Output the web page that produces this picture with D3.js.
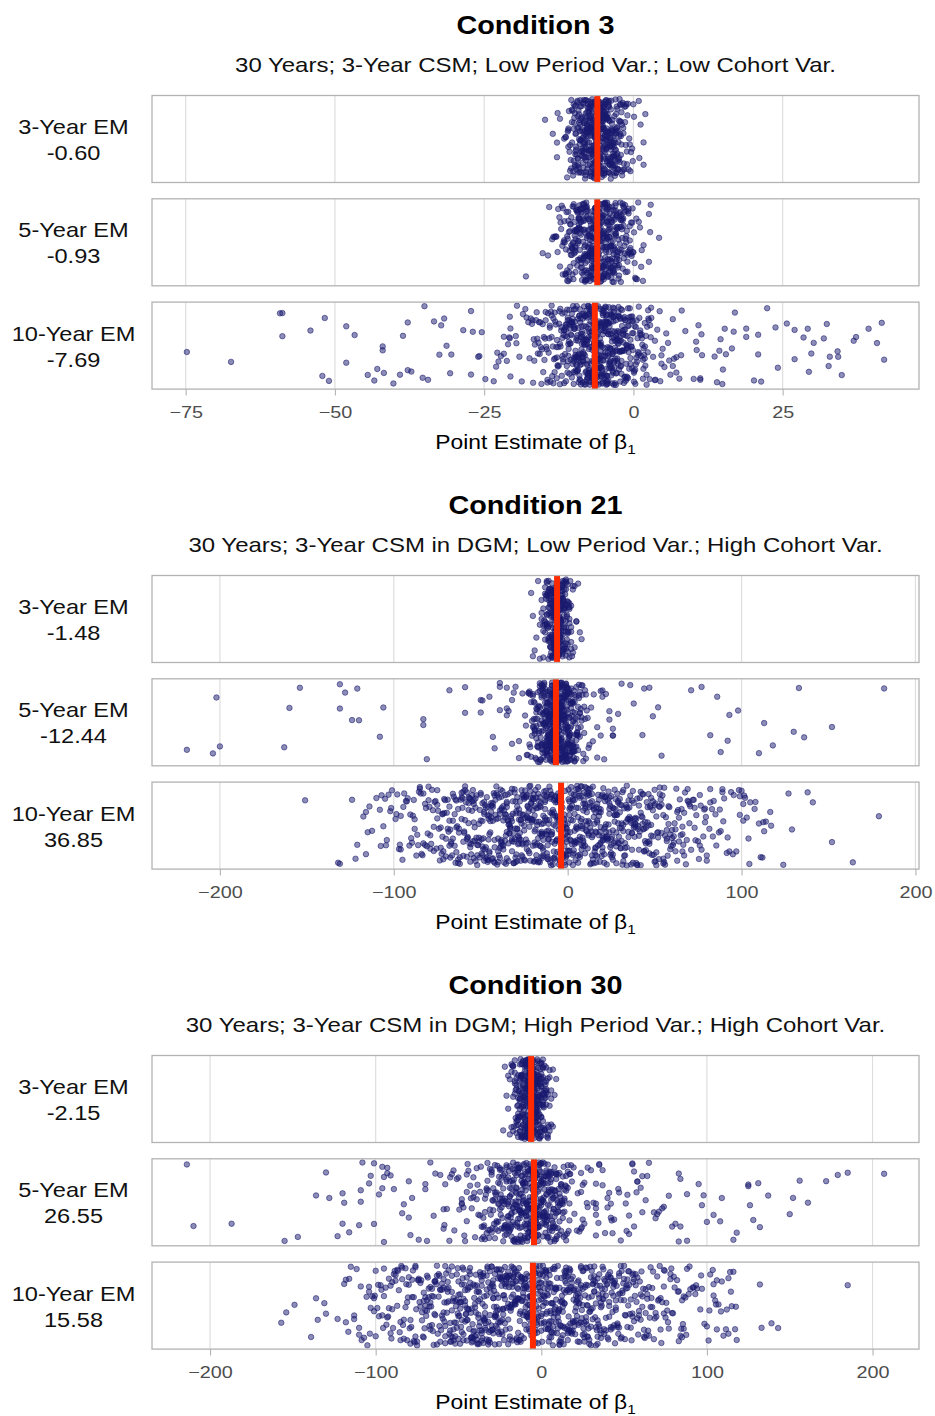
<!DOCTYPE html>
<html>
<head>
<meta charset="utf-8">
<script src="https://cdn.jsdelivr.net/npm/d3@7"></script>
<style>
  body { margin: 0; background: #fff; }
  svg { display: block; font-family: "Liberation Sans", Arial, Helvetica, sans-serif; }
</style>
</head>
<body>
<svg id="chart" width="935" height="1416"></svg>
<script>
// ---- text ----
const conditionTitles = ["Condition 3", "Condition 21", "Condition 30"];
const conditionSubtitles = [
  "30 Years; 3-Year CSM; Low Period Var.; Low Cohort Var.",
  "30 Years; 3-Year CSM in DGM; Low Period Var.; High Cohort Var.",
  "30 Years; 3-Year CSM in DGM; High Period Var.; High Cohort Var."
];
const emLabels = ["3-Year EM", "5-Year EM", "10-Year EM"];
const axisTitle = "Point Estimate of β";

// relative bias (%) of each estimation model, per condition
const biasC3 = [-0.60, -0.93, -7.69];
const biasC21 = [-1.48, -12.44, 36.85];
const biasC30 = [-2.15, 26.55, 15.58];
const trueBeta = -6;

// tick values
const ticksC3 = [-75, -50, -25, 0, 25];
const ticksC21 = [-200, -100, 0, 100, 200];
const ticksC30 = [-200, -100, 0, 100, 200];

// ---- point estimates of beta_1 per replication ----
const c3Em3 = [
-14.8,-13.5,-12.8,-12.8,-12.7,-12.3,-11.6,
-11.4,-11.3,-11.1,-11.0,-10.9,-10.9,-10.8,-10.7,-10.6,-10.5,
-10.4,-10.3,-10.3,-10.2,-10.1,-10.0,-10.0,-10.0,-9.9,-9.8,-9.8,-9.8,-9.7,-9.7,-9.6,-9.6,-9.6,-9.5,
-9.4,-9.4,-9.3,-9.3,-9.3,-9.2,-9.2,-9.2,-9.1,-9.1,-9.0,-9.0,-9.0,-8.9,-8.9,-8.9,-8.8,-8.8,-8.7,-8.7,-8.7,-8.6,-8.6,-8.6,-8.5,-8.5,
-8.4,-8.4,-8.4,-8.3,-8.3,-8.3,-8.3,-8.2,-8.2,-8.2,-8.1,-8.1,-8.1,-8.1,-8.0,-8.0,-8.0,-7.9,-7.9,-7.9,-7.9,-7.8,-7.8,-7.8,-7.8,-7.7,-7.7,-7.7,-7.6,-7.6,-7.6,-7.6,-7.5,-7.5,-7.5,
-7.4,-7.4,-7.4,-7.4,-7.3,-7.3,-7.3,-7.3,-7.3,-7.2,-7.2,-7.2,-7.1,-7.1,-7.1,-7.1,-7.1,-7.0,-7.0,-7.0,-7.0,-6.9,-6.9,-6.9,-6.9,-6.9,-6.8,-6.8,-6.8,-6.8,-6.7,-6.7,-6.7,-6.7,-6.7,-6.6,-6.6,-6.6,-6.6,-6.5,-6.5,-6.5,-6.5,
-6.4,-6.4,-6.4,-6.4,-6.4,-6.3,-6.3,-6.3,-6.3,-6.2,-6.2,-6.2,-6.2,-6.2,-6.1,-6.1,-6.1,-6.1,-6.1,-6.0,-6.0,-6.0,-6.0,-5.9,-5.9,-5.9,-5.9,-5.9,-5.8,-5.8,-5.8,-5.8,-5.8,-5.7,-5.7,-5.7,-5.7,-5.6,-5.6,-5.6,-5.6,-5.6,-5.5,-5.5,-5.5,-5.5,
-5.4,-5.4,-5.4,-5.4,-5.3,-5.3,-5.3,-5.3,-5.3,-5.2,-5.2,-5.2,-5.2,-5.1,-5.1,-5.1,-5.1,-5.1,-5.0,-5.0,-5.0,-5.0,-4.9,-4.9,-4.9,-4.9,-4.9,-4.8,-4.8,-4.8,-4.8,-4.7,-4.7,-4.7,-4.7,-4.7,-4.6,-4.6,-4.6,-4.6,-4.5,-4.5,-4.5,-4.5,
-4.4,-4.4,-4.4,-4.4,-4.3,-4.3,-4.3,-4.3,-4.2,-4.2,-4.2,-4.2,-4.1,-4.1,-4.1,-4.1,-4.0,-4.0,-4.0,-4.0,-3.9,-3.9,-3.9,-3.9,-3.8,-3.8,-3.8,-3.8,-3.7,-3.7,-3.7,-3.7,-3.6,-3.6,-3.6,-3.5,-3.5,-3.5,
-3.4,-3.4,-3.4,-3.3,-3.3,-3.3,-3.2,-3.2,-3.2,-3.1,-3.1,-3.1,-3.0,-3.0,-3.0,-2.9,-2.9,-2.9,-2.8,-2.8,-2.8,-2.7,-2.7,-2.7,-2.6,-2.6,-2.5,-2.5,
-2.4,-2.4,-2.3,-2.3,-2.2,-2.2,-2.1,-2.1,-2.0,-2.0,-1.9,-1.9,-1.8,-1.8,-1.7,-1.7,-1.6,-1.5,
-1.4,-1.3,-1.2,-1.1,-1.0,-0.9,-0.8,-0.7,-0.6,-0.5,
-0.4,-0.2,-0.1,0.0,0.1,
0.9,1.0,1.2,1.7,1.7,2.0,
-10.88,-10.61,-10.43,-10.27,-10.06,
-9.94,-9.81,-9.73,-9.62,-9.51,-9.44,-9.36,-9.22,-9.13,-9.04,
-8.96,-8.89,-8.82,-8.74,-8.67,-8.58,-8.52,-8.46,-8.38,-8.33,-8.24,-8.18,-8.12,-8.07,-8.01,
-7.97,-7.92,-7.86,-7.81,-7.74,-7.69,-7.63,-7.58,-7.52,-7.47,-7.43,-7.37,-7.32,-7.26,-7.21,-7.16,-7.12,-7.07,-7.03,
-6.98,-6.94,-6.89,-6.84,-6.79,-6.73,-6.68,-6.64,-6.59,-6.54,-6.49,-6.44,-6.38,-6.33,-6.28,-6.23,-6.19,-6.14,-6.09,-6.05,-6.01,
-5.97,-5.93,-5.88,-5.83,-5.78,-5.74,-5.69,-5.63,-5.58,-5.54,-5.49,-5.43,-5.39,-5.34,-5.29,-5.24,-5.19,-5.14,-5.09,-5.06,-5.02,
-4.96,-4.91,-4.86,-4.81,-4.76,-4.71,-4.66,-4.61,-4.55,-4.51,-4.46,-4.41,-4.36,-4.31,-4.25,-4.19,-4.14,-4.08,-4.03,
-3.97,-3.91,-3.84,-3.77,-3.71,-3.64,-3.58,-3.51,-3.45,-3.38,-3.32,-3.26,-3.19,-3.12,-3.06,
-2.93,-2.84,-2.76,-2.67,-2.58,-2.49,-2.41,-2.32,-2.21,-2.09,
-1.88,-1.67,-1.49,-1.27,-1.06
];

const c3Em5 = [
-18.0,-15.2,-14.3,-14.1,-13.6,
-13.4,-13.2,-13.0,-12.9,-12.7,-12.6,
-12.4,-12.3,-12.2,-12.1,-12.0,-11.9,-11.8,-11.7,-11.6,-11.5,
-11.4,-11.3,-11.3,-11.2,-11.1,-11.1,-11.0,-10.9,-10.9,-10.8,-10.7,-10.7,-10.6,-10.6,-10.5,
-10.4,-10.4,-10.3,-10.3,-10.2,-10.2,-10.1,-10.1,-10.0,-10.0,-10.0,-9.9,-9.9,-9.8,-9.8,-9.7,-9.7,-9.7,-9.6,-9.6,-9.5,
-9.4,-9.4,-9.4,-9.3,-9.3,-9.3,-9.2,-9.2,-9.2,-9.1,-9.1,-9.1,-9.0,-9.0,-9.0,-8.9,-8.9,-8.9,-8.8,-8.8,-8.8,-8.7,-8.7,-8.7,-8.6,-8.6,-8.5,
-8.4,-8.4,-8.4,-8.3,-8.3,-8.3,-8.3,-8.2,-8.2,-8.2,-8.1,-8.1,-8.1,-8.0,-8.0,-8.0,-8.0,-7.9,-7.9,-7.9,-7.8,-7.8,-7.8,-7.7,-7.7,-7.7,-7.7,-7.6,-7.6,-7.6,-7.5,-7.5,
-7.4,-7.4,-7.4,-7.4,-7.3,-7.3,-7.3,-7.2,-7.2,-7.2,-7.2,-7.1,-7.1,-7.1,-7.1,-7.0,-7.0,-7.0,-6.9,-6.9,-6.9,-6.9,-6.8,-6.8,-6.8,-6.8,-6.7,-6.7,-6.7,-6.6,-6.6,-6.6,-6.6,-6.5,-6.5,-6.5,
-6.4,-6.4,-6.4,-6.4,-6.3,-6.3,-6.3,-6.3,-6.2,-6.2,-6.2,-6.2,-6.1,-6.1,-6.1,-6.1,-6.0,-6.0,-6.0,-6.0,-5.9,-5.9,-5.9,-5.9,-5.8,-5.8,-5.8,-5.8,-5.7,-5.7,-5.7,-5.7,-5.6,-5.6,-5.6,-5.5,-5.5,-5.5,
-5.4,-5.4,-5.4,-5.4,-5.3,-5.3,-5.3,-5.2,-5.2,-5.2,-5.2,-5.1,-5.1,-5.1,-5.0,-5.0,-5.0,-5.0,-4.9,-4.9,-4.9,-4.8,-4.8,-4.8,-4.8,-4.7,-4.7,-4.7,-4.6,-4.6,-4.6,-4.6,-4.5,-4.5,-4.5,-4.5,
-4.4,-4.4,-4.4,-4.3,-4.3,-4.3,-4.3,-4.2,-4.2,-4.2,-4.1,-4.1,-4.1,-4.0,-4.0,-4.0,-4.0,-3.9,-3.9,-3.9,-3.8,-3.8,-3.8,-3.7,-3.7,-3.7,-3.7,-3.6,-3.6,-3.6,-3.5,-3.5,
-3.4,-3.4,-3.4,-3.3,-3.3,-3.3,-3.2,-3.2,-3.2,-3.1,-3.1,-3.1,-3.0,-3.0,-3.0,-2.9,-2.9,-2.9,-2.8,-2.8,-2.8,-2.7,-2.7,-2.7,-2.6,-2.6,-2.5,
-2.4,-2.4,-2.3,-2.3,-2.3,-2.2,-2.2,-2.1,-2.1,-2.0,-2.0,-2.0,-1.9,-1.9,-1.8,-1.8,-1.7,-1.7,-1.6,-1.6,-1.5,
-1.4,-1.4,-1.3,-1.2,-1.2,-1.1,-1.0,-1.0,-0.9,-0.8,-0.8,-0.7,-0.6,-0.6,-0.5,
-0.4,-0.3,-0.2,-0.1,0.0,0.1,0.2,0.3,0.4,0.5,
0.6,0.8,0.9,1.1,1.3,1.4,
1.6,1.7,2.6,2.6,2.8,2.9,4.3,
-11.83,-11.57,-11.32,-11.08,
-10.92,-10.78,-10.63,-10.47,-10.33,-10.18,-10.04,
-9.93,-9.84,-9.72,-9.66,-9.53,-9.41,-9.38,-9.27,-9.16,-9.08,-9.02,
-8.97,-8.91,-8.83,-8.76,-8.68,-8.62,-8.54,-8.47,-8.39,-8.31,-8.26,-8.17,-8.09,-8.03,
-7.96,-7.91,-7.84,-7.77,-7.72,-7.66,-7.58,-7.53,-7.46,-7.41,-7.34,-7.28,-7.22,-7.16,-7.11,-7.06,-7.02,
-6.97,-6.93,-6.86,-6.81,-6.76,-6.71,-6.64,-6.59,-6.53,-6.48,-6.42,-6.37,-6.31,-6.26,-6.19,-6.14,-6.08,-6.03,
-5.98,-5.92,-5.87,-5.83,-5.76,-5.71,-5.64,-5.58,-5.53,-5.47,-5.42,-5.36,-5.29,-5.24,-5.18,-5.13,-5.07,-5.02,
-4.97,-4.91,-4.86,-4.79,-4.73,-4.68,-4.62,-4.56,-4.49,-4.44,-4.38,-4.33,-4.27,-4.21,-4.14,-4.08,-4.03,
-3.96,-3.89,-3.82,-3.74,-3.68,-3.61,-3.54,-3.47,-3.39,-3.33,-3.26,-3.18,-3.11,-3.04,
-2.94,-2.86,-2.77,-2.68,-2.59,-2.51,-2.43,-2.34,-2.26,-2.17,-2.08,
-1.93,-1.78,-1.64,-1.49,-1.33,-1.19,-1.04,
-0.87,-0.62,-0.38,-0.13
];

const c3Em10 = [
-74.8,-67.4,-59.2,-58.8,-58.8,-54.1,-52.1,-51.7,-51.0,-48.1,-48.1,-46.7,-44.5,-43.4,-42.9,-42.0,-42.0,-41.8,-40.2,-39.1,-38.6,-37.8,-37.8,-37.2,-35.3,-35.0,-34.4,-33.4,-32.5,-32.2,-31.7,-31.3,-30.7,-30.5,-28.5,-27.2,-27.2,-26.9,-26.0,-25.8,-25.4,-24.8,-23.4,-23.0,-22.8,-22.6,-22.2,-21.7,-21.7,-21.2,-21.0,-20.8,-20.7,-20.7,-20.6,-20.6,-19.7,-19.6,-19.5,-19.1,-18.7,-18.5,-18.1,-17.9,-17.6,
-17.4,-17.2,-17.0,-16.9,-16.8,-16.6,-16.5,-16.3,-16.2,-16.0,-15.9,-15.8,-15.7,-15.5,-15.4,-15.3,-15.2,-15.0,-14.9,-14.8,-14.7,-14.6,-14.5,-14.4,-14.3,-14.2,-14.1,-14.0,-13.9,-13.8,-13.7,-13.7,-13.6,-13.5,-13.4,-13.3,-13.2,-13.2,-13.1,-13.0,
-12.9,-12.8,-12.8,-12.7,-12.6,-12.5,-12.4,-12.3,-12.3,-12.2,-12.1,-12.0,
-11.9,-11.9,-11.8,-11.7,-11.6,-11.6,-11.5,-11.4,-11.4,-11.3,-11.3,-11.2,-11.1,-11.1,-11.0,-11.0,
-10.9,-10.9,-10.8,-10.8,-10.7,-10.7,-10.6,-10.6,-10.5,-10.5,-10.4,-10.4,-10.3,-10.3,-10.2,-10.2,-10.1,-10.1,-10.0,-10.0,
-9.9,-9.9,-9.9,-9.8,-9.8,-9.7,-9.7,-9.7,-9.6,-9.6,-9.5,-9.5,-9.5,-9.4,-9.4,-9.3,-9.3,-9.3,-9.2,-9.2,-9.1,-9.1,-9.1,-9.0,-9.0,
-8.9,-8.9,-8.9,-8.8,-8.8,-8.8,-8.7,-8.7,-8.7,-8.6,-8.6,-8.6,-8.5,-8.5,-8.5,-8.4,-8.4,-8.4,-8.3,-8.3,-8.3,-8.2,-8.2,-8.2,-8.1,-8.1,-8.1,-8.0,-8.0,
-7.9,-7.9,-7.9,-7.8,-7.8,-7.8,-7.8,-7.7,-7.7,-7.7,-7.6,-7.6,-7.6,-7.5,-7.5,-7.5,-7.5,-7.4,-7.4,-7.4,-7.3,-7.3,-7.3,-7.2,-7.2,-7.2,-7.1,-7.1,-7.1,-7.0,-7.0,-7.0,
-6.9,-6.9,-6.9,-6.9,-6.8,-6.8,-6.8,-6.7,-6.7,-6.7,-6.7,-6.6,-6.6,-6.6,-6.5,-6.5,-6.5,-6.5,-6.4,-6.4,-6.4,-6.3,-6.3,-6.3,-6.3,-6.2,-6.2,-6.2,-6.1,-6.1,-6.1,-6.0,-6.0,-6.0,
-5.9,-5.9,-5.9,-5.8,-5.8,-5.8,-5.8,-5.7,-5.7,-5.7,-5.6,-5.6,-5.6,-5.6,-5.5,-5.5,-5.5,-5.4,-5.4,-5.4,-5.4,-5.3,-5.3,-5.3,-5.2,-5.2,-5.2,-5.2,-5.1,-5.1,-5.1,-5.0,-5.0,-5.0,
-4.9,-4.9,-4.9,-4.8,-4.8,-4.8,-4.7,-4.7,-4.7,-4.7,-4.6,-4.6,-4.6,-4.5,-4.5,-4.5,-4.4,-4.4,-4.4,-4.4,-4.3,-4.3,-4.3,-4.2,-4.2,-4.2,-4.1,-4.1,-4.1,-4.0,-4.0,-4.0,
-3.9,-3.9,-3.9,-3.8,-3.8,-3.8,-3.7,-3.7,-3.7,-3.6,-3.6,-3.6,-3.5,-3.5,-3.5,-3.4,-3.4,-3.4,-3.3,-3.3,-3.3,-3.2,-3.2,-3.2,-3.1,-3.1,-3.1,-3.0,-3.0,
-2.9,-2.9,-2.9,-2.8,-2.8,-2.7,-2.7,-2.7,-2.6,-2.6,-2.5,-2.5,-2.5,-2.4,-2.4,-2.3,-2.3,-2.3,-2.2,-2.2,-2.1,-2.1,-2.1,-2.0,-2.0,
-1.9,-1.9,-1.8,-1.8,-1.7,-1.7,-1.6,-1.6,-1.5,-1.5,-1.4,-1.4,-1.3,-1.3,-1.2,-1.2,-1.1,-1.1,-1.0,-1.0,
-0.9,-0.9,-0.8,-0.8,-0.7,-0.6,-0.6,-0.5,-0.5,-0.4,-0.3,-0.3,-0.2,-0.2,-0.1,0.0,
0.1,0.1,0.2,0.3,0.4,0.4,0.5,0.6,0.7,0.8,0.9,1.0,
1.1,1.2,1.3,1.4,1.5,1.6,1.6,1.7,1.8,1.9,1.9,2.0,2.1,2.2,2.3,2.4,2.5,2.6,2.8,2.9,
3.0,3.3,3.6,3.6,3.7,4.0,4.4,4.5,4.7,4.7,4.9,5.2,5.5,5.8,6.0,6.2,6.6,6.6,6.8,7.2,7.2,7.7,8.0,8.1,8.7,10.1,10.5,10.6,10.9,11.2,11.2,11.4,11.5,13.6,14.0,14.4,14.6,14.9,15.0,15.3,15.5,16.5,16.8,17.0,18.9,18.9,20.2,20.9,20.9,21.4,22.4,23.8,24.2,25.7,27.0,27.0,28.5,29.2,29.4,29.8,30.2,31.9,32.4,32.7,32.9,34.2,34.3,34.9,36.9,37.3,39.4,40.8,41.6,42.0,
-16.7,-16.1,-15.6,-15.1,-14.7,-14.4,-14.0,-13.7,-13.4,-13.1,
-12.85,-12.65,-12.45,-12.25,-12.05,
-11.9,-11.75,-11.6,-11.45,-11.3,-11.15,-11.05,
-10.95,-10.85,-10.72,-10.63,-10.51,-10.42,-10.31,-10.18,-10.06,
-9.95,-9.86,-9.77,-9.68,-9.58,-9.49,-9.41,-9.32,-9.23,-9.13,-9.04,
-8.96,-8.88,-8.81,-8.73,-8.65,-8.57,-8.49,-8.42,-8.34,-8.26,-8.18,-8.11,-8.03,
-7.96,-7.89,-7.82,-7.74,-7.67,-7.61,-7.53,-7.46,-7.39,-7.32,-7.24,-7.17,-7.09,-7.03,
-6.97,-6.91,-6.84,-6.77,-6.71,-6.64,-6.58,-6.51,-6.44,-6.37,-6.31,-6.24,-6.17,-6.11,-6.04,
-5.96,-5.89,-5.83,-5.76,-5.69,-5.63,-5.56,-5.49,-5.43,-5.36,-5.29,-5.22,-5.16,-5.09,-5.03,
-4.96,-4.89,-4.82,-4.75,-4.68,-4.61,-4.54,-4.47,-4.39,-4.33,-4.26,-4.18,-4.11,-4.04,
-3.96,-3.88,-3.81,-3.73,-3.65,-3.58,-3.5,-3.42,-3.34,-3.27,-3.19,-3.11,-3.03,
-2.95,-2.86,-2.77,-2.68,-2.59,-2.5,-2.41,-2.32,-2.23,-2.14,-2.05,
-1.94,-1.83,-1.72,-1.61,-1.5,-1.39,-1.28,-1.17,-1.06,
-0.92,-0.79,-0.65,-0.51,-0.37,-0.23,-0.09,
0.12,0.33,0.54,0.75,0.93,
1.15,1.42,1.68,1.94,2.21,2.47,2.73,2.96
];

const c21Em3 = [
-21,-20,-20,-19,-18,-17,-16,-16,-15,-15,-15,
-14,-14,-14,-14,
-13,-13,-13,-13,-13,-13,
-12,-12,-12,-12,-12,-12,-12,-12,
-11,-11,-11,-11,-11,-11,-11,-11,-11,-11,
-10,-10,-10,-10,-10,-10,-10,-10,-10,-10,-10,-10,-10,
-9,-9,-9,-9,-9,-9,-9,-9,-9,-9,-9,-9,-9,-9,-9,
-8,-8,-8,-8,-8,-8,-8,-8,-8,-8,-8,-8,-8,-8,-8,-8,-8,
-7,-7,-7,-7,-7,-7,-7,-7,-7,-7,-7,-7,-7,-7,-7,-7,-7,-7,-7,
-6,-6,-6,-6,-6,-6,-6,-6,-6,-6,-6,-6,-6,-6,-6,-6,-6,-6,-6,-6,
-5,-5,-5,-5,-5,-5,-5,-5,-5,-5,-5,-5,-5,-5,-5,-5,-5,-5,-5,
-4,-4,-4,-4,-4,-4,-4,-4,-4,-4,-4,-4,-4,-4,-4,-4,-4,
-3,-3,-3,-3,-3,-3,-3,-3,-3,-3,-3,-3,-3,-3,-3,
-2,-2,-2,-2,-2,-2,-2,-2,-2,-2,-2,-2,-2,
-1,-1,-1,-1,-1,-1,-1,-1,-1,-1,
0,0,0,0,0,0,0,0,
1,1,1,1,1,1,
2,2,2,2,2,
3,3,3,
4,4,5,5,6,7,8,
-13.5,-12.5,-12.5,-11.5,-11.5,-11.5,-10.5,-10.5,-10.5,-10.5,-9.5,-9.5,-9.5,-9.5,-9.5,-8.5,-8.5,-8.5,-8.5,-8.5,-7.5,-7.5,-7.5,-7.5,-7.5,-7.5,-6.5,-6.5,-6.5,-6.5,-6.5,-6.5,-5.5,-5.5,-5.5,-5.5,-5.5,-5.5,-4.5,-4.5,-4.5,-4.5,-4.5,-3.5,-3.5,-3.5,-3.5,-3.5,-2.5,-2.5,-2.5,-2.5,-1.5,-1.5,-1.5,-0.5,-0.5,-0.5,0.5,0.5,1.5,2.5
];

const c21Em5 = [
-219,-204,-202,-200,-163,-160,-154,-131,-131,-128,-124,-121,-120,-108,-106,-83,-83,-81,-68,-59,-59,-50,-50,-49,-45,-43,-42,-39,-39,-39,-35,-35,-35,-34,-32,-32,-31,-30,-28,-28,-26,
-24,-23,-22,-22,-21,-21,-20,-20,-20,
-19,-19,-19,-19,
-18,-18,-18,-18,-18,
-17,-17,-17,-17,-17,-17,
-16,-16,-16,-16,-16,-16,-16,
-15,-15,-15,-15,-15,-15,-15,-15,-15,
-14,-14,-14,-14,-14,-14,-14,-14,-14,-14,
-13,-13,-13,-13,-13,-13,-13,-13,-13,-13,-13,-13,
-12,-12,-12,-12,-12,-12,-12,-12,-12,-12,-12,-12,-12,-12,
-11,-11,-11,-11,-11,-11,-11,-11,-11,-11,-11,-11,-11,-11,-11,
-10,-10,-10,-10,-10,-10,-10,-10,-10,-10,-10,-10,-10,-10,-10,-10,-10,
-9,-9,-9,-9,-9,-9,-9,-9,-9,-9,-9,-9,-9,-9,-9,-9,-9,-9,
-8,-8,-8,-8,-8,-8,-8,-8,-8,-8,-8,-8,-8,-8,-8,-8,-8,-8,-8,
-7,-7,-7,-7,-7,-7,-7,-7,-7,-7,-7,-7,-7,-7,-7,-7,-7,-7,-7,-7,
-6,-6,-6,-6,-6,-6,-6,-6,-6,-6,-6,-6,-6,-6,-6,-6,-6,-6,-6,-6,
-5,-5,-5,-5,-5,-5,-5,-5,-5,-5,-5,-5,-5,-5,-5,-5,-5,-5,-5,-5,
-4,-4,-4,-4,-4,-4,-4,-4,-4,-4,-4,-4,-4,-4,-4,-4,-4,-4,-4,
-3,-3,-3,-3,-3,-3,-3,-3,-3,-3,-3,-3,-3,-3,-3,-3,-3,-3,
-2,-2,-2,-2,-2,-2,-2,-2,-2,-2,-2,-2,-2,-2,-2,-2,-2,
-1,-1,-1,-1,-1,-1,-1,-1,-1,-1,-1,-1,-1,-1,-1,
0,0,0,0,0,0,0,0,0,0,0,0,0,0,
1,1,1,1,1,1,1,1,1,1,1,1,
2,2,2,2,2,2,2,2,2,2,
3,3,3,3,3,3,3,3,3,
4,4,4,4,4,4,4,
5,5,5,5,5,5,
6,6,6,6,6,
7,7,7,7,
8,8,8,9,9,10,10,11,12,
15,17,17,19,19,20,20,21,22,24,24,26,26,26,29,31,36,38,43,44,47,49,52,54,71,77,82,86,88,92,93,98,110,113,118,130,133,136,152,182,
-24.5,-23.5,-22.5,-22.5,-21.5,-21.5,-20.5,-20.5,
-19.5,-19.5,-19.5,-18.5,-18.5,-18.5,-17.5,-17.5,-17.5,-16.5,-16.5,-16.5,-15.5,-15.5,-15.5,
-14.5,-14.5,-14.5,-14.5,-13.5,-13.5,-13.5,-13.5,-12.5,-12.5,-12.5,-12.5,-12.5,-11.5,-11.5,-11.5,-11.5,-10.5,-10.5,-10.5,-10.5,-10.5,
-9.5,-9.5,-9.5,-9.5,-9.5,-9.5,-8.5,-8.5,-8.5,-8.5,-8.5,-7.5,-7.5,-7.5,-7.5,-7.5,-7.5,-6.5,-6.5,-6.5,-6.5,-6.5,-5.5,-5.5,-5.5,-5.5,-5.5,-5.5,
-4.5,-4.5,-4.5,-4.5,-4.5,-4.5,-3.5,-3.5,-3.5,-3.5,-3.5,-2.5,-2.5,-2.5,-2.5,-2.5,-2.5,-1.5,-1.5,-1.5,-1.5,-1.5,-0.5,-0.5,-0.5,-0.5,-0.5,
0.5,0.5,0.5,0.5,0.5,1.5,1.5,1.5,1.5,2.5,2.5,2.5,2.5,3.5,3.5,3.5,3.5,4.5,4.5,4.5,
5.5,5.5,5.5,6.5,6.5,6.5,7.5,7.5,8.5,8.5,9.5,9.5,
10.5,10.5,11.5,12.5,13.5,14.5
];

const c21Em10 = [
-151,-132,-131,-124,-122,-121,-116,-116,-115,-114,-110,
-108,-107,-106,-105,-104,-103,-102,-101,
-99,-98,-97,-96,-96,-95,-94,-93,-92,-91,-90,
-89,-88,-88,-87,-86,-85,-85,-84,-83,-83,-82,-82,-81,-80,-80,
-79,-79,-78,-77,-77,-76,-75,-75,-75,-74,-73,-73,-72,-72,-72,-71,-71,-70,-70,
-69,-69,-68,-68,-68,-67,-67,-66,-66,-66,-65,-65,-64,-64,-64,-63,-63,-63,-62,-62,-61,-61,-61,-60,-60,-60,
-59,-59,-59,-58,-58,-58,-57,-57,-57,-57,-56,-56,-56,-55,-55,-55,-54,-54,-54,-54,-53,-53,-53,-52,-52,-52,-51,-51,-51,-50,-50,-50,
-49,-49,-49,-49,-48,-48,-48,-48,-47,-47,-47,-46,-46,-46,-46,-45,-45,-45,-45,-44,-44,-44,-44,-43,-43,-43,-43,-42,-42,-42,-42,-41,-41,-41,-40,-40,-40,-40,
-39,-39,-39,-39,-38,-38,-38,-38,-38,-37,-37,-37,-37,-36,-36,-36,-36,-35,-35,-35,-35,-35,-34,-34,-34,-34,-33,-33,-33,-33,-32,-32,-32,-32,-32,-31,-31,-31,-31,-30,-30,-30,-30,
-29,-29,-29,-29,-29,-28,-28,-28,-28,-28,-27,-27,-27,-27,-26,-26,-26,-26,-26,-25,-25,-25,-25,-25,-24,-24,-24,-24,-23,-23,-23,-23,-23,-22,-22,-22,-22,-22,-21,-21,-21,-21,-20,-20,-20,-20,-20,
-19,-19,-19,-19,-19,-18,-18,-18,-18,-18,-17,-17,-17,-17,-17,-16,-16,-16,-16,-16,-15,-15,-15,-15,-15,-14,-14,-14,-14,-14,-13,-13,-13,-13,-13,-12,-12,-12,-12,-12,-11,-11,-11,-11,-11,-10,-10,-10,-10,-10,
-9,-9,-9,-9,-9,-8,-8,-8,-8,-8,-7,-7,-7,-7,-7,-6,-6,-6,-6,-6,-6,-5,-5,-5,-5,-5,-4,-4,-4,-4,-4,-3,-3,-3,-3,-3,-2,-2,-2,-2,-2,-1,-1,-1,-1,-1,0,0,0,0,0,
1,1,1,1,1,2,2,2,2,2,3,3,3,3,3,4,4,4,4,4,5,5,5,5,5,6,6,6,6,6,7,7,7,7,7,8,8,8,8,8,9,9,9,9,9,10,10,10,10,10,
11,11,11,11,11,12,12,12,12,12,13,13,13,13,14,14,14,14,14,15,15,15,15,16,16,16,16,16,17,17,17,17,18,18,18,18,18,19,19,19,19,20,20,20,20,20,
21,21,21,21,21,22,22,22,22,23,23,23,23,24,24,24,24,24,25,25,25,25,26,26,26,26,27,27,27,27,28,28,28,28,29,29,29,29,30,30,30,30,
31,31,31,31,32,32,32,32,33,33,33,34,34,34,34,35,35,35,35,36,36,36,37,37,37,37,38,38,38,39,39,39,39,40,40,40,
41,41,41,42,42,42,43,43,43,44,44,44,45,45,45,46,46,46,47,47,47,48,48,48,49,49,49,50,50,50,
51,51,51,52,52,53,53,53,54,54,55,55,55,56,56,57,57,57,58,58,59,59,60,60,
61,61,62,62,63,63,64,64,65,66,66,66,67,67,68,69,69,70,70,
71,72,73,73,74,75,76,76,77,78,79,79,80,80,
82,82,83,84,85,87,88,89,89,90,
92,93,94,95,97,99,99,100,
101,101,102,103,104,105,108,
110,111,112,113,114,117,
124,127,129,138,141,152,164,179,
-117.5,-112.5,-107.5,-104.5,-101.5,-98.5,-96.5,-94.5,-92.5,-90.5,
-89.5,-88.5,-86.5,-85.5,-84.5,-83.5,-81.5,-80.5,
-79.5,-78.5,-77.5,-76.5,-75.5,-74.5,-73.5,-72.5,-71.5,-71.5,-70.5,
-69.5,-68.5,-67.5,-67.5,-66.5,-65.5,-64.5,-64.5,-63.5,-62.5,-62.5,-61.5,-60.5,-60.5,
-59.5,-59.5,-58.5,-57.5,-57.5,-56.5,-56.5,-55.5,-55.5,-54.5,-54.5,-53.5,-53.5,-52.5,-52.5,-51.5,-50.5,-50.5,
-49.5,-49.5,-48.5,-48.5,-47.5,-47.5,-46.5,-46.5,-45.5,-45.5,-45.5,-44.5,-44.5,-43.5,-43.5,-42.5,-42.5,-41.5,-41.5,-40.5,-40.5,
-39.5,-39.5,-38.5,-38.5,-38.5,-37.5,-37.5,-36.5,-36.5,-35.5,-35.5,-35.5,-34.5,-34.5,-33.5,-33.5,-33.5,-32.5,-32.5,-31.5,-31.5,-30.5,-30.5,-30.5,
-29.5,-29.5,-29.5,-28.5,-28.5,-27.5,-27.5,-27.5,-26.5,-26.5,-26.5,-25.5,-25.5,-24.5,-24.5,-24.5,-23.5,-23.5,-23.5,-22.5,-22.5,-21.5,-21.5,-21.5,-20.5,-20.5,
-19.5,-19.5,-19.5,-18.5,-18.5,-18.5,-17.5,-17.5,-16.5,-16.5,-16.5,-15.5,-15.5,-15.5,-14.5,-14.5,-14.5,-13.5,-13.5,-12.5,-12.5,-12.5,-11.5,-11.5,-11.5,-10.5,-10.5,
-9.5,-9.5,-9.5,-8.5,-8.5,-8.5,-7.5,-7.5,-7.5,-6.5,-6.5,-6.5,-5.5,-5.5,-4.5,-4.5,-4.5,-3.5,-3.5,-3.5,-2.5,-2.5,-2.5,-1.5,-1.5,-1.5,-0.5,-0.5,
0.5,0.5,0.5,1.5,1.5,1.5,2.5,2.5,3.5,3.5,3.5,4.5,4.5,4.5,5.5,5.5,5.5,6.5,6.5,7.5,7.5,7.5,8.5,8.5,8.5,9.5,9.5,
10.5,10.5,10.5,11.5,11.5,12.5,12.5,12.5,13.5,13.5,14.5,14.5,14.5,15.5,15.5,16.5,16.5,16.5,17.5,17.5,18.5,18.5,18.5,19.5,19.5,
20.5,20.5,21.5,21.5,21.5,22.5,22.5,23.5,23.5,24.5,24.5,24.5,25.5,25.5,26.5,26.5,27.5,27.5,27.5,28.5,28.5,29.5,29.5,
30.5,30.5,31.5,31.5,32.5,32.5,33.5,33.5,34.5,34.5,35.5,35.5,36.5,36.5,37.5,37.5,38.5,38.5,39.5,39.5,
40.5,40.5,41.5,41.5,42.5,43.5,43.5,44.5,44.5,45.5,46.5,46.5,47.5,47.5,48.5,49.5,
50.5,50.5,51.5,52.5,52.5,53.5,54.5,55.5,55.5,56.5,57.5,58.5,59.5,
60.5,61.5,62.5,63.5,64.5,65.5,66.5,67.5,68.5,69.5,
70.5,72.5,73.5,75.5,76.5,78.5,79.5,
81.5,83.5,85.5,87.5,89.5,
91.5,95.5,98.5,101.5,104.5,107.5,112.5,116.5
];

const c30Em3 = [
-23,-22,-21,-20,-20,-19,-19,-18,-18,-18,
-17,-17,-17,-17,
-16,-16,-16,-16,-16,
-15,-15,-15,-15,-15,-15,
-14,-14,-14,-14,-14,-14,-14,-14,
-13,-13,-13,-13,-13,-13,-13,-13,-13,-13,
-12,-12,-12,-12,-12,-12,-12,-12,-12,-12,-12,-12,
-11,-11,-11,-11,-11,-11,-11,-11,-11,-11,-11,-11,-11,-11,
-10,-10,-10,-10,-10,-10,-10,-10,-10,-10,-10,-10,-10,-10,-10,-10,
-9,-9,-9,-9,-9,-9,-9,-9,-9,-9,-9,-9,-9,-9,-9,-9,-9,
-8,-8,-8,-8,-8,-8,-8,-8,-8,-8,-8,-8,-8,-8,-8,-8,-8,-8,
-7,-7,-7,-7,-7,-7,-7,-7,-7,-7,-7,-7,-7,-7,-7,-7,-7,-7,-7,
-6,-6,-6,-6,-6,-6,-6,-6,-6,-6,-6,-6,-6,-6,-6,-6,-6,-6,-6,-6,
-5,-5,-5,-5,-5,-5,-5,-5,-5,-5,-5,-5,-5,-5,-5,-5,-5,-5,-5,-5,
-4,-4,-4,-4,-4,-4,-4,-4,-4,-4,-4,-4,-4,-4,-4,-4,-4,-4,-4,
-3,-3,-3,-3,-3,-3,-3,-3,-3,-3,-3,-3,-3,-3,-3,-3,-3,
-2,-2,-2,-2,-2,-2,-2,-2,-2,-2,-2,-2,-2,-2,-2,
-1,-1,-1,-1,-1,-1,-1,-1,-1,-1,-1,-1,-1,
0,0,0,0,0,0,0,0,0,0,0,0,
1,1,1,1,1,1,1,1,1,1,
2,2,2,2,2,2,2,2,
3,3,3,3,3,3,
4,4,4,4,4,
5,5,5,5,
6,6,6,7,7,8,9,
-17.5,-16.5,-15.5,-15.5,-14.5,-14.5,-13.5,-13.5,-13.5,-12.5,-12.5,-12.5,-12.5,-11.5,-11.5,-11.5,-11.5,-10.5,-10.5,-10.5,-10.5,-10.5,-9.5,-9.5,-9.5,-9.5,-9.5,-8.5,-8.5,-8.5,-8.5,-8.5,-8.5,-7.5,-7.5,-7.5,-7.5,-7.5,-7.5,-6.5,-6.5,-6.5,-6.5,-6.5,-6.5,-5.5,-5.5,-5.5,-5.5,-5.5,-5.5,-4.5,-4.5,-4.5,-4.5,-4.5,-3.5,-3.5,-3.5,-3.5,-3.5,-2.5,-2.5,-2.5,-2.5,-1.5,-1.5,-1.5,-1.5,-0.5,-0.5,-0.5,0.5,0.5,0.5,1.5,1.5,2.5,2.5,3.5,4.5
];

const c30Em5 = [
-214,-210,-187,-155,-147,-136,-130,-128,-123,-120,-120,-119,-116,-110,-109,-109,-108,-104,-103,-101,-101,-98,-96,-96,-95,-95,-93,-93,-91,-89,-84,-83,-80,-80,-79,-78,-74,-70,-70,-69,-67,-65,-64,-61,-59,-59,-58,-57,-55,-54,-53,-51,-50,-48,-48,-48,-47,-46,-45,-45,-45,-44,-43,-42,-41,-41,-40,-39,-39,-38,-37,-37,-36,-36,
-35,-35,-35,-34,-34,-34,-33,-33,-33,-32,-32,-31,-31,-31,
-30,-30,-30,-30,-29,-29,-29,-28,-28,-28,-28,-27,-27,-27,-26,-26,-26,-26,
-25,-25,-25,-25,-25,-24,-24,-24,-24,-24,-23,-23,-23,-23,-22,-22,-22,-22,-22,-21,-21,-21,-21,-21,
-20,-20,-20,-20,-20,-20,-19,-19,-19,-19,-19,-19,-18,-18,-18,-18,-18,-18,-17,-17,-17,-17,-17,-17,-16,-16,-16,-16,-16,-16,
-15,-15,-15,-15,-15,-15,-15,-14,-14,-14,-14,-14,-14,-14,-13,-13,-13,-13,-13,-13,-13,-13,-12,-12,-12,-12,-12,-12,-12,-11,-11,-11,-11,-11,-11,-11,
-10,-10,-10,-10,-10,-10,-10,-10,-9,-9,-9,-9,-9,-9,-9,-9,-8,-8,-8,-8,-8,-8,-8,-8,-7,-7,-7,-7,-7,-7,-7,-7,-6,-6,-6,-6,-6,-6,-6,-6,
-5,-5,-5,-5,-5,-5,-5,-5,-4,-4,-4,-4,-4,-4,-4,-4,-3,-3,-3,-3,-3,-3,-3,-3,-2,-2,-2,-2,-2,-2,-2,-2,-1,-1,-1,-1,-1,-1,-1,-1,
0,0,0,0,0,0,0,1,1,1,1,1,1,1,1,2,2,2,2,2,2,2,3,3,3,3,3,3,3,4,4,4,4,4,4,4,
5,5,5,5,5,5,6,6,6,6,6,6,7,7,7,7,7,7,8,8,8,8,8,8,9,9,9,9,9,9,
10,10,10,10,10,11,11,11,11,11,12,12,12,12,13,13,13,13,14,14,14,14,
15,15,15,15,16,16,16,17,17,17,
18,20,22,23,24,24,24,25,25,26,26,28,28,30,33,33,33,33,33,35,35,37,37,40,40,41,42,42,43,44,47,48,51,52,53,53,55,55,56,56,58,58,60,61,61,63,64,65,68,69,70,71,73,74,77,79,81,83,83,84,84,88,88,95,97,98,100,104,108,109,116,118,125,125,126,128,131,132,137,150,152,156,161,172,179,185,207,
-58.5,-55.5,-52.5,-49.5,-46.5,-44.5,-42.5,-40.5,-38.5,-36.5,
-34.5,-33.5,-32.5,-32.5,-31.5,-30.5,
-29.5,-29.5,-28.5,-27.5,-27.5,-26.5,-25.5,-25.5,
-24.5,-24.5,-23.5,-23.5,-22.5,-22.5,-22.5,-21.5,-21.5,-20.5,-20.5,
-19.5,-19.5,-19.5,-18.5,-18.5,-18.5,-17.5,-17.5,-17.5,-16.5,-16.5,-15.5,-15.5,-15.5,
-14.5,-14.5,-14.5,-13.5,-13.5,-13.5,-13.5,-12.5,-12.5,-12.5,-11.5,-11.5,-11.5,-11.5,-10.5,-10.5,-10.5,
-9.5,-9.5,-9.5,-9.5,-8.5,-8.5,-8.5,-8.5,-7.5,-7.5,-7.5,-7.5,-6.5,-6.5,-6.5,-6.5,-5.5,-5.5,-5.5,
-4.5,-4.5,-4.5,-4.5,-3.5,-3.5,-3.5,-3.5,-2.5,-2.5,-2.5,-2.5,-1.5,-1.5,-1.5,-1.5,-0.5,-0.5,-0.5,
0.5,0.5,0.5,1.5,1.5,1.5,1.5,2.5,2.5,2.5,3.5,3.5,3.5,3.5,4.5,4.5,4.5,
5.5,5.5,5.5,6.5,6.5,6.5,7.5,7.5,7.5,8.5,8.5,8.5,9.5,9.5,
10.5,10.5,11.5,11.5,12.5,12.5,13.5,13.5,14.5,14.5,
15.5,16.5,17.5,18.5,19.5,
21.5,24.5,27.5,31.5,34.5,38.5,42.5,46.5,51.5,57.5
];

const c30Em10 = [
-157,-154,-149,-139,-136,-135,-131,-130,-123,
-119,-118,-118,-116,-115,-113,-113,
-110,-110,-109,-107,-105,-104,-104,-103,-102,-101,-101,
-100,-100,-99,-98,-97,-96,-95,-95,-94,-93,-92,-92,-91,-91,
-90,-90,-89,-88,-88,-87,-87,-86,-85,-85,-84,-84,-83,-83,-82,-82,-81,-81,
-80,-80,-79,-79,-78,-78,-77,-77,-76,-76,-76,-75,-75,-74,-74,-73,-73,-72,-72,-71,-71,-71,
-70,-70,-70,-69,-69,-69,-68,-68,-67,-67,-67,-66,-66,-66,-65,-65,-64,-64,-64,-63,-63,-63,-62,-62,-61,-61,-61,
-60,-60,-60,-59,-59,-59,-58,-58,-58,-58,-57,-57,-57,-56,-56,-56,-55,-55,-55,-54,-54,-54,-54,-53,-53,-53,-52,-52,-52,-51,-51,-51,
-50,-50,-50,-50,-49,-49,-49,-49,-48,-48,-48,-47,-47,-47,-47,-46,-46,-46,-46,-45,-45,-45,-45,-44,-44,-44,-43,-43,-43,-43,-42,-42,-42,-42,-41,-41,-41,
-40,-40,-40,-40,-39,-39,-39,-39,-38,-38,-38,-38,-37,-37,-37,-37,-36,-36,-36,-36,-36,-35,-35,-35,-35,-34,-34,-34,-34,-33,-33,-33,-33,-32,-32,-32,-32,-31,-31,-31,-31,
-30,-30,-30,-30,-29,-29,-29,-29,-29,-28,-28,-28,-28,-27,-27,-27,-27,-27,-26,-26,-26,-26,-25,-25,-25,-25,-24,-24,-24,-24,-24,-23,-23,-23,-23,-22,-22,-22,-22,-22,-21,-21,-21,-21,
-20,-20,-20,-20,-20,-19,-19,-19,-19,-18,-18,-18,-18,-18,-17,-17,-17,-17,-17,-16,-16,-16,-16,-15,-15,-15,-15,-15,-14,-14,-14,-14,-14,-13,-13,-13,-13,-12,-12,-12,-12,-12,-11,-11,-11,-11,
-10,-10,-10,-10,-10,-9,-9,-9,-9,-9,-8,-8,-8,-8,-7,-7,-7,-7,-7,-6,-6,-6,-6,-6,-5,-5,-5,-5,-5,-4,-4,-4,-4,-3,-3,-3,-3,-3,-2,-2,-2,-2,-2,-1,-1,-1,-1,
0,0,0,0,0,1,1,1,1,2,2,2,2,2,3,3,3,3,3,4,4,4,4,5,5,5,5,5,6,6,6,6,6,7,7,7,7,8,8,8,8,8,9,9,9,9,
10,10,10,10,11,11,11,11,11,12,12,12,12,13,13,13,13,14,14,14,14,14,15,15,15,15,16,16,16,16,17,17,17,17,17,18,18,18,18,19,19,19,19,
20,20,20,20,21,21,21,21,22,22,22,22,23,23,23,23,24,24,24,24,25,25,25,25,26,26,26,26,27,27,27,27,28,28,28,28,29,29,29,
30,30,30,30,31,31,31,32,32,32,32,33,33,33,34,34,34,34,35,35,35,36,36,36,36,37,37,37,38,38,38,39,39,39,
40,40,40,41,41,41,42,42,42,43,43,43,44,44,44,45,45,45,46,46,46,47,47,47,48,48,48,49,49,
50,50,50,51,51,52,52,52,53,53,54,54,55,55,55,56,56,57,57,58,58,59,59,
60,60,61,61,62,62,63,63,64,64,65,65,66,66,67,67,68,69,
70,71,72,72,73,74,74,74,75,76,77,78,78,79,
80,82,83,83,84,85,85,86,86,87,88,89,
90,92,93,94,96,97,
100,101,102,104,104,105,106,106,107,109,
110,112,113,113,114,115,116,117,118,
132,133,139,143,185,
-116.5,-111.5,-108.5,-105.5,-103.5,-100.5,
-98.5,-96.5,-95.5,-93.5,-92.5,-90.5,
-89.5,-88.5,-86.5,-85.5,-84.5,-83.5,-81.5,-80.5,
-79.5,-78.5,-77.5,-76.5,-75.5,-74.5,-73.5,-72.5,-71.5,-70.5,
-69.5,-68.5,-67.5,-67.5,-66.5,-65.5,-64.5,-64.5,-63.5,-62.5,-61.5,-61.5,-60.5,
-59.5,-58.5,-58.5,-57.5,-56.5,-56.5,-55.5,-54.5,-54.5,-53.5,-53.5,-52.5,-51.5,-51.5,-50.5,-50.5,
-49.5,-49.5,-48.5,-48.5,-47.5,-47.5,-46.5,-45.5,-45.5,-44.5,-44.5,-43.5,-43.5,-42.5,-42.5,-41.5,-41.5,-40.5,-40.5,
-39.5,-39.5,-38.5,-38.5,-37.5,-37.5,-37.5,-36.5,-36.5,-35.5,-35.5,-34.5,-34.5,-34.5,-33.5,-33.5,-32.5,-32.5,-31.5,-31.5,-30.5,-30.5,
-29.5,-29.5,-29.5,-28.5,-28.5,-27.5,-27.5,-27.5,-26.5,-26.5,-25.5,-25.5,-25.5,-24.5,-24.5,-23.5,-23.5,-23.5,-22.5,-22.5,-21.5,-21.5,-20.5,-20.5,
-19.5,-19.5,-19.5,-18.5,-18.5,-17.5,-17.5,-17.5,-16.5,-16.5,-15.5,-15.5,-15.5,-14.5,-14.5,-14.5,-13.5,-13.5,-12.5,-12.5,-12.5,-11.5,-11.5,-10.5,-10.5,
-9.5,-9.5,-9.5,-8.5,-8.5,-8.5,-7.5,-7.5,-6.5,-6.5,-6.5,-5.5,-5.5,-5.5,-4.5,-4.5,-3.5,-3.5,-3.5,-2.5,-2.5,-2.5,-1.5,-1.5,-0.5,-0.5,
0.5,0.5,0.5,1.5,1.5,2.5,2.5,2.5,3.5,3.5,4.5,4.5,4.5,5.5,5.5,5.5,6.5,6.5,7.5,7.5,7.5,8.5,8.5,9.5,9.5,
10.5,10.5,10.5,11.5,11.5,12.5,12.5,12.5,13.5,13.5,14.5,14.5,14.5,15.5,15.5,16.5,16.5,16.5,17.5,17.5,18.5,18.5,19.5,19.5,
20.5,20.5,21.5,21.5,22.5,22.5,22.5,23.5,23.5,24.5,24.5,25.5,25.5,26.5,26.5,27.5,27.5,27.5,28.5,28.5,29.5,29.5,
30.5,30.5,31.5,31.5,32.5,32.5,33.5,33.5,34.5,34.5,35.5,35.5,36.5,36.5,37.5,37.5,38.5,38.5,39.5,
40.5,40.5,41.5,41.5,42.5,43.5,43.5,44.5,44.5,45.5,46.5,46.5,47.5,48.5,48.5,49.5,
50.5,50.5,51.5,52.5,52.5,53.5,54.5,55.5,55.5,56.5,57.5,58.5,59.5,
60.5,61.5,62.5,63.5,64.5,65.5,66.5,67.5,68.5,69.5,
70.5,71.5,72.5,74.5,75.5,76.5,78.5,79.5,
80.5,82.5,84.5,85.5,87.5,89.5,
91.5,93.5,96.5,98.5,101.5,103.5,105.5,108.5,111.5,114.5,117.5
];

// ---- layout ----
const BLOCK_H = 480;
const PANEL_L = 152, PANEL_R = 919;
const PANEL_T = 95.5, PANEL_STEP = 103.3, PANEL_H = 87;
const CX = (PANEL_L + PANEL_R) / 2;
const LABEL_X = 73.5;
const NAVY = "#191970";
const MEAN_RED = "#ff2a00";

const conditions = [
  { title: conditionTitles[0], subtitle: conditionSubtitles[0], series: [c3Em3, c3Em5, c3Em10], bias: biasC3, ticks: ticksC3 },
  { title: conditionTitles[1], subtitle: conditionSubtitles[1], series: [c21Em3, c21Em5, c21Em10], bias: biasC21, ticks: ticksC21 },
  { title: conditionTitles[2], subtitle: conditionSubtitles[2], series: [c30Em3, c30Em5, c30Em10], bias: biasC30, ticks: ticksC30 }
];

// vertical jitter in [0,1), deterministic per point
function jitter(i, k) {
  const s = Math.sin((i + 1) * 12.9898 + (k + 1) * 78.233) * 43758.5453;
  return s - Math.floor(s);
}

const svg = d3.select("#chart");

// text drawn with a slight horizontal stretch
function addText(sel, x, y, str, size, sx, opts = {}) {
  return sel.append("text")
    .attr("transform", `translate(${x},${y}) scale(${sx},1)`)
    .attr("text-anchor", "middle")
    .attr("font-size", size)
    .attr("font-weight", opts.weight || "normal")
    .attr("fill", opts.fill || "#000")
    .text(str);
}

conditions.forEach((cond, b) => {
  const g = svg.append("g").attr("transform", `translate(0,${b * BLOCK_H})`);

  addText(g, CX, 33.5, cond.title, 25, 1.15, { weight: "bold" });
  addText(g, CX, 72, cond.subtitle, 20, 1.2, { fill: "#111" });

  const [lo, hi] = d3.extent(cond.series.flat());
  const pad = (hi - lo) * 0.05;
  const x = d3.scaleLinear().domain([lo - pad, hi + pad]).range([PANEL_L, PANEL_R]);

  cond.series.forEach((vals, r) => {
    const top = PANEL_T + r * PANEL_STEP;
    const y = d3.scaleLinear().domain([0, 1]).range([top + PANEL_H - 3.5, top + 3.5]);
    const p = g.append("g");

    p.selectAll("line.grid").data(cond.ticks).join("line")
      .attr("class", "grid")
      .attr("x1", d => x(d)).attr("x2", d => x(d))
      .attr("y1", top).attr("y2", top + PANEL_H)
      .attr("stroke", "#dedede").attr("stroke-width", 1.2);

    p.selectAll("circle").data(vals).join("circle")
      .attr("cx", d => x(d))
      .attr("cy", (d, i) => y(jitter(i, b * 3 + r)))
      .attr("r", 2.75)
      .attr("fill", NAVY).attr("fill-opacity", 0.5)
      .attr("stroke", NAVY).attr("stroke-opacity", 0.55).attr("stroke-width", 1);

    const mean = trueBeta + Math.abs(trueBeta) * cond.bias[r] / 100;
    p.append("line")
      .attr("x1", x(mean)).attr("x2", x(mean))
      .attr("y1", top).attr("y2", top + PANEL_H)
      .attr("stroke", MEAN_RED).attr("stroke-width", 6);

    p.append("rect")
      .attr("x", PANEL_L).attr("y", top)
      .attr("width", PANEL_R - PANEL_L).attr("height", PANEL_H)
      .attr("fill", "none").attr("stroke", "#b3b3b3").attr("stroke-width", 1.3);

    addText(g, LABEL_X, top + 38.5, emLabels[r], 20.5, 1.15, { fill: "#111" });
    addText(g, LABEL_X, top + 64.5, cond.bias[r].toFixed(2), 20.5, 1.15, { fill: "#111" });
  });

  const bottom = PANEL_T + 2 * PANEL_STEP + PANEL_H;
  const ax = g.append("g")
    .attr("transform", `translate(0,${bottom})`)
    .call(d3.axisBottom(x).tickValues(cond.ticks).tickSize(6.5));
  ax.attr("font-family", null).attr("font-size", null);
  ax.select(".domain").remove();
  ax.selectAll(".tick line").attr("stroke", "#b3b3b3").attr("stroke-width", 1.1);
  ax.selectAll(".tick text")
    .attr("y", 0).attr("dy", null)
    .attr("transform", "translate(0,29) scale(1.2,1)")
    .attr("fill", "#4d4d4d")
    .attr("font-size", 16.5);

  const t = g.append("text")
    .attr("transform", `translate(${CX},449) scale(1.17,1)`)
    .attr("text-anchor", "middle")
    .attr("font-size", 19.5)
    .attr("fill", "#000");
  t.append("tspan").text(axisTitle);
  t.append("tspan").attr("font-size", 13).attr("dy", 4.5).text("1");
});
</script>
</body>
</html>
